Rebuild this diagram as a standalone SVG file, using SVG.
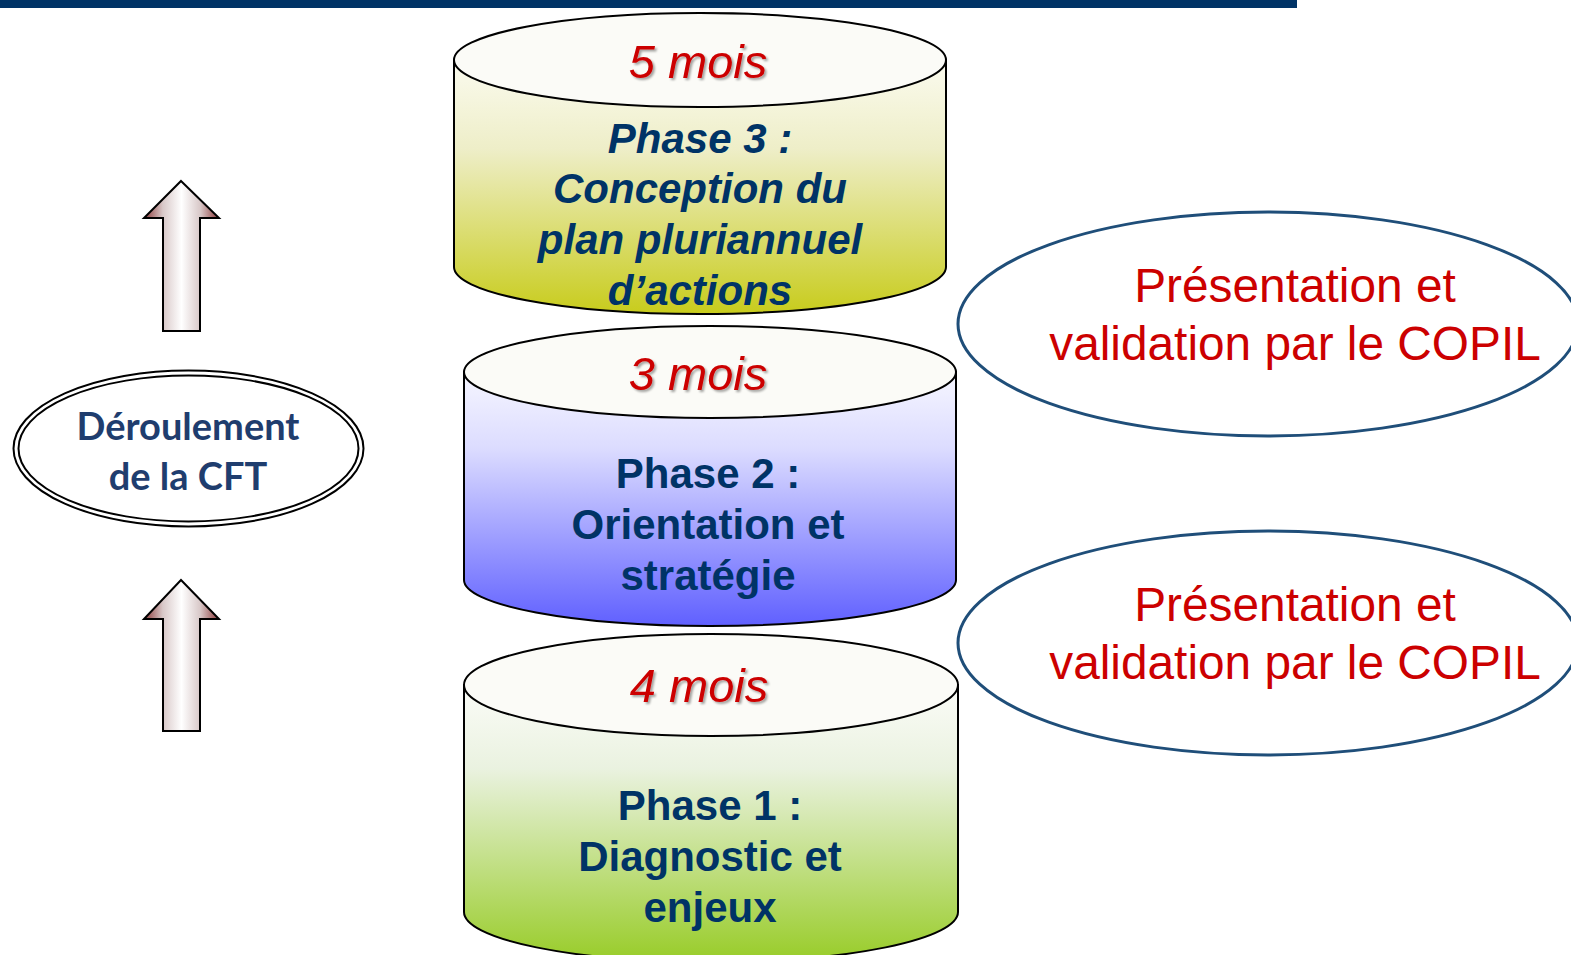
<svg xmlns="http://www.w3.org/2000/svg" width="1571" height="955" viewBox="0 0 1571 955">
<style>
.cyl{stroke:#000;stroke-width:2}
.top{fill:#fbfbf7;stroke:#000;stroke-width:2}
.mois{font-family:"Liberation Sans",Arial,sans-serif;font-style:italic;font-size:47px;fill:#cc0000;text-anchor:middle;filter:url(#sh)}
.ph{font-family:"Liberation Sans",Arial,sans-serif;font-weight:bold;font-size:42px;fill:#003366;text-anchor:middle}
.it{font-style:italic}
.cop{font-family:"Liberation Sans",Arial,sans-serif;font-size:47.8px;fill:#cc0000;text-anchor:middle}
.copel{fill:#fff;stroke:#1f4e79;stroke-width:3}
.der{font-family:Lato,"Noto Sans",sans-serif;font-weight:bold;font-size:38px;fill:#1f3d6e;text-anchor:middle}
.arr{fill:url(#ga);stroke:#000;stroke-width:2}
</style>
<defs>
<linearGradient id="g3" x1="0" y1="0" x2="0" y2="1">
<stop offset="0" stop-color="#fbfbef"/><stop offset="0.35" stop-color="#eeeec8"/><stop offset="1" stop-color="#c8cc1c"/>
</linearGradient>
<linearGradient id="g2" x1="0" y1="0" x2="0" y2="1">
<stop offset="0" stop-color="#f6f6ff"/><stop offset="0.3" stop-color="#dcdcff"/><stop offset="1" stop-color="#6060ff"/>
</linearGradient>
<linearGradient id="g1" x1="0" y1="0" x2="0" y2="1">
<stop offset="0" stop-color="#fbfcf8"/><stop offset="0.3" stop-color="#eaf2e0"/><stop offset="1" stop-color="#98cc28"/>
</linearGradient>
<linearGradient id="ga" x1="0" y1="0" x2="1" y2="0">
<stop offset="0" stop-color="#8b3a3a"/><stop offset="0.25" stop-color="#d8c8c8"/><stop offset="0.5" stop-color="#ffffff"/><stop offset="0.75" stop-color="#d8c8c8"/><stop offset="1" stop-color="#8b3a3a"/>
</linearGradient>
<filter id="sh" x="-10%" y="-20%" width="130%" height="150%">
<feDropShadow dx="2" dy="2" stdDeviation="0.8" flood-color="#000" flood-opacity="0.35"/>
</filter>
</defs>
<rect x="0" y="0" width="1297" height="8" fill="#003366"/>

<g id="phase3">
<path class="cyl" fill="url(#g3)" d="M454,60 L454,267 A246,47 0 0 0 946,267 L946,60 Z"/>
<ellipse class="top" cx="700" cy="60" rx="246" ry="47"/>
<text class="mois" x="698" y="78">5 mois</text>
<text class="ph it" x="700" y="153">Phase 3 :</text>
<text class="ph it" x="700" y="203">Conception du</text>
<text class="ph it" x="700" y="254">plan pluriannuel</text>
<text class="ph it" x="700" y="305">d’actions</text>
</g>

<g id="phase2">
<path class="cyl" fill="url(#g2)" d="M464,372 L464,580 A246,46 0 0 0 956,580 L956,372 Z"/>
<ellipse class="top" cx="710" cy="372" rx="246" ry="46"/>
<text class="mois" x="698" y="390">3 mois</text>
<text class="ph" x="708" y="488">Phase 2 :</text>
<text class="ph" x="708" y="539">Orientation et</text>
<text class="ph" x="708" y="590">stratégie</text>
</g>

<g id="phase1">
<path class="cyl" fill="url(#g1)" d="M464,685 L464,912 A247,50 0 0 0 958,912 L958,685 Z"/>
<ellipse class="top" cx="711" cy="685" rx="247" ry="51"/>
<text class="mois" x="699" y="702">4 mois</text>
<text class="ph" x="710" y="820">Phase 1 :</text>
<text class="ph" x="710" y="871">Diagnostic et</text>
<text class="ph" x="710" y="922">enjeux</text>
</g>

<g id="copil1">
<ellipse class="copel" cx="1268" cy="324" rx="310" ry="112"/>
<text class="cop" x="1295" y="302">Présentation et</text>
<text class="cop" x="1295" y="360">validation par le COPIL</text>
</g>

<g id="copil2">
<ellipse class="copel" cx="1268" cy="643" rx="310" ry="112"/>
<text class="cop" x="1295" y="621">Présentation et</text>
<text class="cop" x="1295" y="679">validation par le COPIL</text>
</g>

<g id="deroulement">
<ellipse cx="188.5" cy="448.5" rx="175" ry="78" fill="#fff" stroke="#000" stroke-width="2"/>
<ellipse cx="188.5" cy="448.5" rx="170" ry="73" fill="none" stroke="#000" stroke-width="2"/>
<text class="der" x="188" y="440">Déroulement</text>
<text class="der" x="188" y="490">de la CFT</text>
</g>

<g id="connectors">
<path class="arr" d="M181,181 L219,218 L200,218 L200,331 L163,331 L163,218 L144,218 Z"/>
<path class="arr" d="M181,580 L219,619 L200,619 L200,731 L163,731 L163,619 L144,619 Z"/>
</g>
</svg>
